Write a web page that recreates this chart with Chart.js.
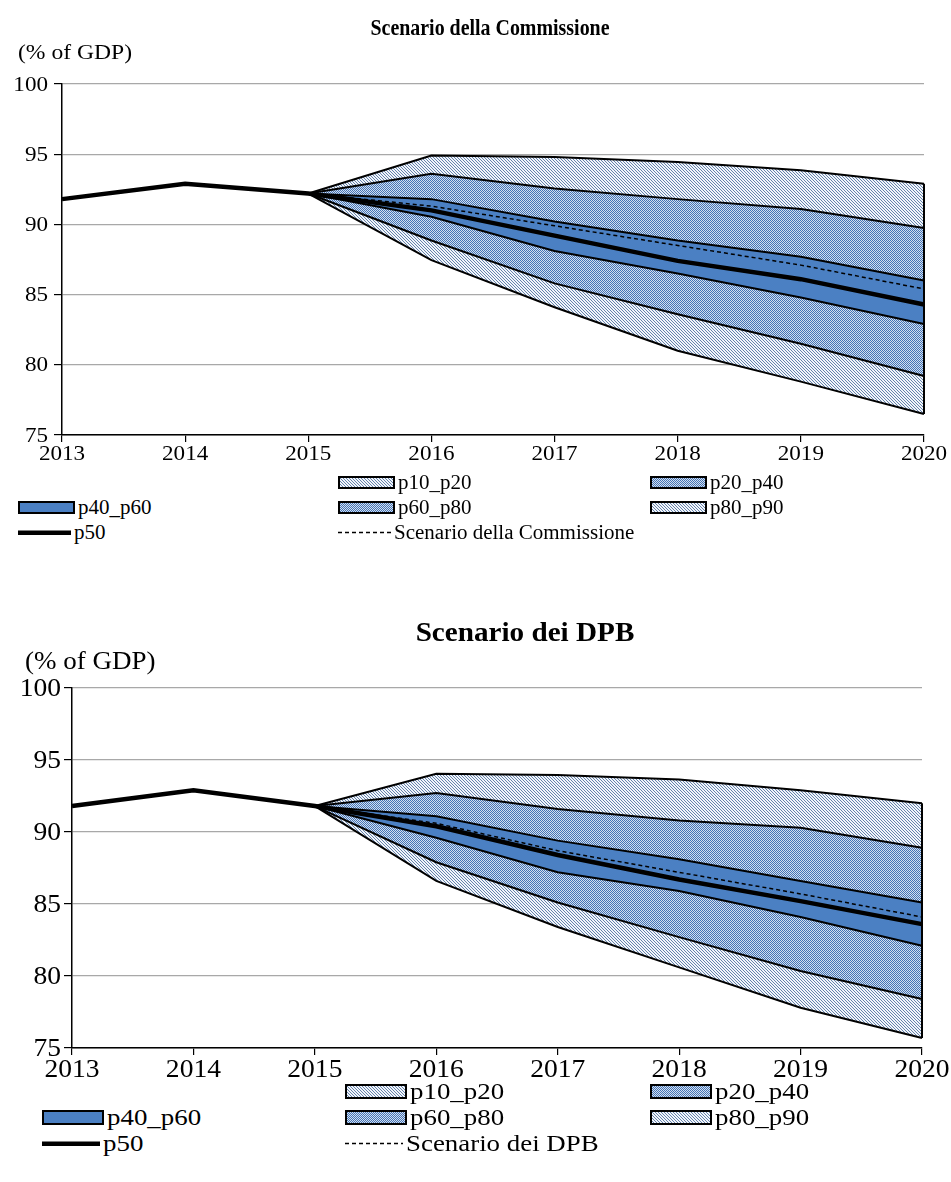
<!DOCTYPE html>
<html>
<head>
<meta charset="utf-8">
<script src="https://cdn.jsdelivr.net/npm/chart.js@4.4.0/dist/chart.umd.min.js"></script>
<style>
  html, body { margin: 0; padding: 0; background: #fff; }
  #wrap { position: relative; width: 951px; height: 1182px; overflow: hidden; background: #fff; font-family: "Liberation Serif", "Times New Roman", serif; color: #000; }
  canvas { position: absolute; left: 0; }
  .txt { position: absolute; white-space: nowrap; }
  .sw { position: absolute; }
</style>
</head>
<body>
<div id="wrap">
  <canvas id="c1" width="951" height="475" style="top:0px"></canvas>
  <canvas id="c2" width="951" height="502" style="top:590px"></canvas>
</div>
<script>
// ---------------- DATA ----------------
const years = ['2013', '2014', '2015', '2016', '2017', '2018', '2019', '2020'];
const yTicks = [75, 80, 85, 90, 95, 100];

// Scenario della Commissione
const comP50      = [91.8, 92.9, 92.2, 91.0, 89.2, 87.4, 86.1, 84.3];
const comScenario = [null, null, 92.2, 91.3, 89.9, 88.5, 87.1, 85.4];
const comP90      = [null, null, 92.2, 94.9, 94.8, 94.45, 93.85, 92.9];
const comP80      = [null, null, 92.2, 93.6, 92.55, 91.8, 91.1, 89.75];
const comP60      = [null, null, 92.2, 91.8, 90.2, 88.85, 87.7, 86.0];
const comP40      = [null, null, 92.2, 90.55, 88.1, 86.5, 84.8, 82.9];
const comP20      = [null, null, 92.2, 88.85, 85.8, 83.6, 81.5, 79.2];
const comP10      = [null, null, 92.2, 87.45, 84.1, 81.0, 78.8, 76.5];

// Scenario dei DPB
const dpbP50      = [91.8, 92.9, 91.8, 90.4, 88.4, 86.7, 85.2, 83.6];
const dpbScenario = [null, null, 91.8, 90.6, 88.7, 87.2, 85.7, 84.1];
const dpbP90      = [null, null, 91.8, 94.05, 93.95, 93.65, 92.9, 92.0];
const dpbP80      = [null, null, 91.8, 92.7, 91.6, 90.8, 90.3, 88.9];
const dpbP60      = [null, null, 91.8, 91.1, 89.4, 88.1, 86.6, 85.1];
const dpbP40      = [null, null, 91.8, 89.6, 87.2, 85.9, 84.1, 82.1];
const dpbP20      = [null, null, 91.8, 87.9, 85.1, 82.7, 80.35, 78.4];
const dpbP10      = [null, null, 91.8, 86.6, 83.4, 80.6, 77.8, 75.7];

// ---------------- PATTERNS ----------------
function pixPattern(size, bg, fg, fn) {
  const c = document.createElement('canvas');
  c.width = c.height = size;
  const g = c.getContext('2d');
  g.fillStyle = bg; g.fillRect(0, 0, size, size);
  g.fillStyle = fg;
  for (let x = 0; x < size; x++) for (let y = 0; y < size; y++) if (fn(x, y)) g.fillRect(x, y, 1, 1);
  return g.createPattern(c, 'repeat');
}
const hatch = pixPattern(3, '#f2f5fa', '#6483ad', (x, y) => x === y);
const dots = pixPattern(2, '#d3dfef', '#4474b6', (x, y) => (x + y) % 2 === 0);
const solid = '#4b80c3';
const bandFill = { p10_p20: hatch, p20_p40: dots, p40_p60: solid, p60_p80: dots, p80_p90: hatch };

const SERIF = '"Liberation Serif", "Times New Roman", serif';

// --------------- PLUGINS ---------------
const edgePlugin = {
  id: 'edge',
  afterDatasetsDraw(chart) {
    const n = years.length - 1;
    const p1 = chart.getDatasetMeta(2).data[n], p2 = chart.getDatasetMeta(7).data[n];
    if (!p1 || !p2) return;
    const ctx = chart.ctx;
    ctx.save();
    ctx.strokeStyle = '#000'; ctx.lineWidth = 2;
    ctx.beginPath(); ctx.moveTo(p1.x, p1.y); ctx.lineTo(p2.x, p2.y); ctx.stroke();
    ctx.restore();
  }
};
// stretched tick labels, positioned through the chart's own scales
const tickLabelPlugin = {
  id: 'tickLabels',
  afterDraw(chart, args, o) {
    const ctx = chart.ctx, xs = chart.scales.x, ys = chart.scales.y;
    ctx.save();
    ctx.fillStyle = '#000';
    ctx.font = o.size + 'px ' + SERIF;
    ctx.textBaseline = 'middle';
    xs.ticks.forEach((t, i) => {
      const x = xs.getPixelForTick(i);
      ctx.save(); ctx.translate(x, xs.top + o.xOff); ctx.scale(o.sx, 1);
      ctx.textAlign = 'center'; ctx.fillText(years[i], 0, 0); ctx.restore();
    });
    yTicks.forEach(v => {
      const y = ys.getPixelForValue(v);
      ctx.save(); ctx.translate(ys.right - o.yOff, y + 1); ctx.scale(o.sx, 1);
      ctx.textAlign = 'right'; ctx.fillText(String(v), 0, 0); ctx.restore();
    });
    ctx.restore();
  }
};

function build(id, s, g) {
  const lineDs = (data, extra) => Object.assign({
    data, borderColor: '#000', borderWidth: 2, pointRadius: 0, tension: 0, fill: false, spanGaps: false
  }, extra);
  const datasets = [
    lineDs(s.scen, { label: s.scenLabel, borderWidth: 1.5, borderDash: [4, 3] }),
    lineDs(s.p50, { label: 'p50', borderWidth: 4.5 }),
    lineDs(s.p90, { label: 'p90', fill: { target: 3 }, backgroundColor: bandFill.p80_p90 }),
    lineDs(s.p80, { label: 'p80', fill: { target: 4 }, backgroundColor: bandFill.p60_p80 }),
    lineDs(s.p60, { label: 'p60', fill: { target: 5 }, backgroundColor: bandFill.p40_p60 }),
    lineDs(s.p40, { label: 'p40', fill: { target: 6 }, backgroundColor: bandFill.p20_p40 }),
    lineDs(s.p20, { label: 'p20', fill: { target: 7 }, backgroundColor: bandFill.p10_p20 }),
    lineDs(s.p10, { label: 'p10' })
  ];
  return new Chart(document.getElementById(id), {
    type: 'line',
    data: { labels: years, datasets },
    plugins: [edgePlugin, tickLabelPlugin],
    options: {
      responsive: false,
      animation: false,
      events: [],
      layout: { padding: { left: 0, top: g.top, right: 951 - g.right, bottom: 0 } },
      plugins: {
        legend: { display: false },
        tooltip: { enabled: false },
        title: { display: false },
        filler: { drawTime: 'beforeDatasetsDraw', propagate: false },
        tickLabels: { size: g.tickSize, sx: g.sx, xOff: g.xOff, yOff: g.yOff }
      },
      scales: {
        x: {
          type: 'category',
          offset: false,
          grid: { display: true, drawOnChartArea: false, drawTicks: true, tickLength: 7, color: '#000', lineWidth: 1.2 },
          border: { display: true, color: '#000', width: 1.5 },
          ticks: { display: false, autoSkip: false },
          afterFit(scale) { scale.height = g.xh; }
        },
        y: {
          min: 75, max: 100,
          afterBuildTicks(scale) { scale.ticks = yTicks.map(v => ({ value: v })); },
          grid: { color: '#a8a8a8', lineWidth: 1.2, tickColor: '#000', tickLength: 8, drawTicks: true },
          border: { display: true, color: '#000', width: 1.5 },
          ticks: { display: false },
          afterFit(scale) { scale.width = g.left; }
        }
      }
    }
  });
}

build('c1', { p50: comP50, scen: comScenario, p90: comP90, p80: comP80, p60: comP60, p40: comP40, p20: comP20, p10: comP10, scenLabel: 'Scenario della Commissione' },
  { top: 84, right: 924, left: 62, xh: 40, tickSize: 21, sx: 1.1, xOff: 19, yOff: 14 });
build('c2', { p50: dpbP50, scen: dpbScenario, p90: dpbP90, p80: dpbP80, p60: dpbP60, p40: dpbP40, p20: dpbP20, p10: dpbP10, scenLabel: 'Scenario dei DPB' },
  { top: 98, right: 922, left: 72, xh: 44, tickSize: 26, sx: 1.06, xOff: 22, yOff: 11 });

// --------------- HTML TEXT & LEGENDS ---------------
const wrap = document.getElementById('wrap');
function text(str, x, yc, size, opts = {}) {
  const d = document.createElement('div');
  d.className = 'txt';
  d.textContent = str;
  d.style.fontSize = size + 'px';
  d.style.lineHeight = size + 'px';
  d.style.height = size + 'px';
  d.style.top = (yc - size / 2) + 'px';
  const sx = opts.sx || 1;
  if (opts.center) {
    d.style.left = (x - 400) + 'px'; d.style.width = '800px'; d.style.textAlign = 'center';
    d.style.transformOrigin = 'center center';
  } else {
    d.style.left = x + 'px';
    d.style.transformOrigin = 'left center';
  }
  if (sx !== 1) d.style.transform = 'scaleX(' + sx + ')';
  if (opts.bold) d.style.fontWeight = 'bold';
  wrap.appendChild(d);
}
function swatch(kind, x, yc, w, h) {
  const c = document.createElement('canvas');
  c.className = 'sw';
  const H = Math.max(h, 6);
  c.width = w; c.height = H;
  c.style.left = x + 'px'; c.style.top = Math.round(yc - H / 2) + 'px';
  const g = c.getContext('2d');
  if (kind === 'p50') {
    g.fillStyle = '#000'; g.fillRect(0, H / 2 - 2, w, 4.5);
  } else if (kind === 'dash') {
    g.strokeStyle = '#000'; g.lineWidth = 1.5; g.setLineDash([4, 3]);
    g.beginPath(); g.moveTo(0, H / 2); g.lineTo(w, H / 2); g.stroke();
  } else {
    g.fillStyle = bandFill[kind]; g.fillRect(0, 0, w, h);
    g.strokeStyle = '#000'; g.lineWidth = 2; g.strokeRect(1, 1, w - 2, h - 2);
  }
  wrap.appendChild(c);
}
function legend(L, scenLabel) {
  const items = [
    [1, 0, 'p10_p20', 'p10_p20'], [2, 0, 'p20_p40', 'p20_p40'],
    [0, 1, 'p40_p60', 'p40_p60'], [1, 1, 'p60_p80', 'p60_p80'], [2, 1, 'p80_p90', 'p80_p90'],
    [0, 2, 'p50', 'p50'], [1, 2, 'dash', scenLabel]
  ];
  items.forEach(([c, r, kind, lab]) => {
    const x = L.cols[c], y = L.rows[r];
    const w = (kind === 'p50' || kind === 'dash') ? L.w - 4 : L.w;
    swatch(kind, x, y, w, L.h);
    text(lab, x + w + L.gap, y, L.size, { sx: L.sx });
  });
}

// Top chart texts
text('Scenario della Commissione', 490, 27, 24, { center: true, bold: true, sx: 0.83 });
text('(% of GDP)', 18, 52, 20, { sx: 1.18 });
legend({ rows: [482, 507, 532], cols: [18, 338, 650], w: 57, h: 13, gap: 3, size: 20, sx: 1.05 }, 'Scenario della Commissione');

// Bottom chart texts
text('Scenario dei DPB', 525, 632, 27, { center: true, bold: true, sx: 1.08 });
text('(% of GDP)', 25, 660, 25, { sx: 1.08 });
legend({ rows: [1091, 1117, 1143], cols: [42, 345, 650], w: 62, h: 15, gap: 3, size: 24, sx: 1.12 }, 'Scenario dei DPB');
</script>
</body>
</html>
